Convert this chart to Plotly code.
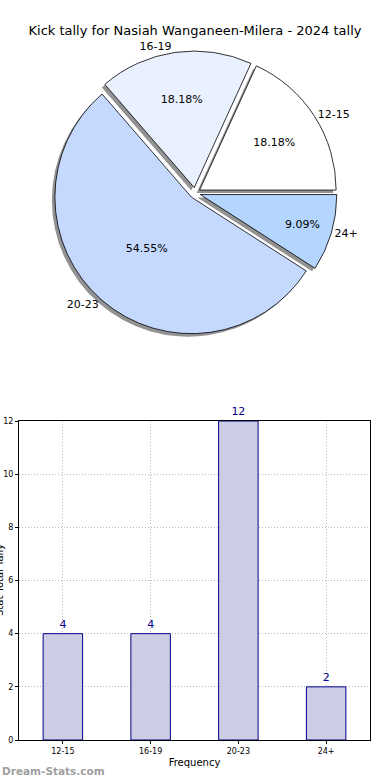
import plotly.graph_objects as go

categories = ["12-15", "16-19", "20-23", "24+"]
values = [4, 4, 12, 2]
pie_colors = ["#ffffff", "#e9f0fe", "#c5d9fe", "#b3d5fe"]
title_text = "Kick tally for Nasiah Wanganeen-Milera - 2024 tally"
x_title = "Frequency"
y_title = "Stat Total Tally"
y_ticks = [0, 2, 4, 6, 8, 10, 12]

W, H = 390, 780
FONT = "DejaVu Sans"

def px_x(p):
    return p / W

def px_y(p):
    return 1 - p / H

# pie geometry in pixels
cx, cy, half = 195, 193, 142
pull = 0.04
rot = 90 - 360 * values[0] / sum(values)
dom_x = [px_x(cx - half), px_x(cx + half)]
dom_y = [px_y(cy + half), px_y(cy - half)]
sh = 3
dom_x_sh = [px_x(cx - half - sh), px_x(cx + half - sh)]
dom_y_sh = [px_y(cy + half + sh), px_y(cy - half + sh)]

fig = go.Figure()

# shadow
fig.add_trace(go.Pie(
    labels=categories, values=values, sort=False, direction="counterclockwise",
    rotation=rot, pull=[pull] * 4, domain=dict(x=dom_x_sh, y=dom_y_sh),
    marker=dict(colors=["rgba(110,110,110,0.75)"] * 4, line=dict(width=0)),
    textinfo="none", hoverinfo="skip", showlegend=False,
))
# main pie with percentages
fig.add_trace(go.Pie(
    labels=categories, values=values, sort=False, direction="counterclockwise",
    rotation=rot, pull=[pull] * 4, domain=dict(x=dom_x, y=dom_y),
    marker=dict(colors=pie_colors, line=dict(color="black", width=0.8)),
    texttemplate="%{percent:.2%}", textposition="inside",
    insidetextorientation="horizontal",
    textfont=dict(family=FONT, size=11, color="black"),
    showlegend=False,
))
# labels outside
fig.add_trace(go.Pie(
    labels=categories, values=values, sort=False, direction="counterclockwise",
    rotation=rot, pull=[pull] * 4, domain=dict(x=dom_x, y=dom_y),
    marker=dict(colors=["rgba(0,0,0,0)"] * 4, line=dict(width=0)),
    textinfo="label", textposition="outside",
    textfont=dict(family=FONT, size=11, color="black"),
    hoverinfo="skip", showlegend=False,
))

# bar chart
fig.add_trace(go.Bar(
    x=categories, y=values, width=0.45,
    marker=dict(color="#ccccE4", line=dict(color="#00008b", width=1)),
    text=[str(v) for v in values], textposition="outside",
    textfont=dict(family=FONT, size=11, color="#00008b"),
    cliponaxis=False, showlegend=False, xaxis="x", yaxis="y",
))

fig.update_layout(
    width=W, height=H,
    margin=dict(l=0, r=0, t=0, b=0, autoexpand=False),
    paper_bgcolor="white", plot_bgcolor="white",
    font=dict(family=FONT, color="black"),
    title=dict(text=title_text, x=0.5, xanchor="center", xref="paper",
               yref="paper", y=px_y(30), yanchor="middle", automargin=False,
               font=dict(family=FONT, size=13, color="black")),
    xaxis=dict(domain=[px_x(19), px_x(370)], range=[-0.5, 3.5], automargin=False,
               showline=True, mirror=True, linecolor="black", linewidth=1,
               showgrid=True, gridcolor="#b8b8b8", griddash="1px,2px", gridwidth=1,
               ticks="outside", ticklen=3, tickcolor="black",
               tickfont=dict(family=FONT, size=8, color="black"),
               title=dict(text=x_title, font=dict(family=FONT, size=10), standoff=4),
               anchor="y", fixedrange=True),
    yaxis=dict(domain=[px_y(740), px_y(421)], range=[0, 12], automargin=False,
               tickvals=y_ticks,
               showline=True, mirror=True, linecolor="black", linewidth=1,
               showgrid=True, gridcolor="#b8b8b8", griddash="1px,2px", gridwidth=1,
               ticks="outside", ticklen=3, tickcolor="black",
               tickfont=dict(family=FONT, size=8, color="black"),
               zeroline=False, anchor="x", fixedrange=True),
    annotations=[
        dict(text=y_title, textangle=-90, xref="paper", yref="paper",
             x=px_x(-1), y=px_y(580), xanchor="center", yanchor="middle",
             showarrow=False, font=dict(family=FONT, size=10, color="black")),
        dict(text="<b>Dream-Stats.com</b>", xref="paper", yref="paper",
             x=0, y=px_y(771), xanchor="left", yanchor="middle",
             showarrow=False, font=dict(family="DejaVu Sans", size=10.5, color="#a0a0a0")),
    ],
)

fig.write_html("out.html", config={"displayModeBar": False},
               post_script="document.body.style.margin='0';document.body.style.overflow='hidden';")
